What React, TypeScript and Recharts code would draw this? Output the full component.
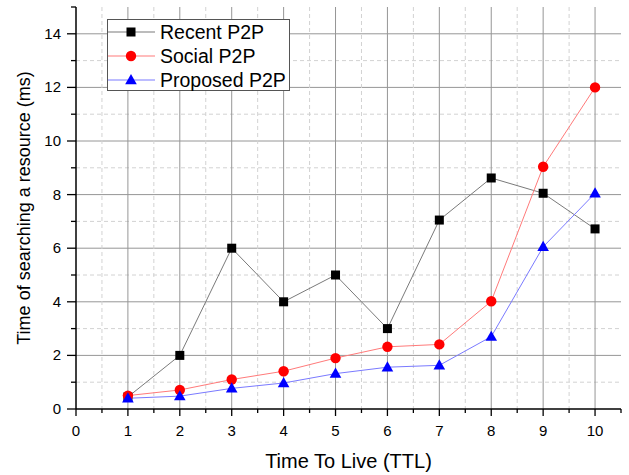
import React from 'react';
import { LineChart, Line, XAxis, YAxis, CartesianGrid, Legend, Label } from 'recharts';

const ttl = [1, 2, 3, 4, 5, 6, 7, 8, 9, 10];
const recentP2P = [0.45, 2, 6, 4, 5, 3, 7.05, 8.62, 8.05, 6.72];
const socialP2P = [0.5, 0.71, 1.1, 1.41, 1.9, 2.32, 2.41, 4.02, 9.04, 12];
const proposedP2P = [0.4, 0.48, 0.77, 0.97, 1.32, 1.56, 1.63, 2.7, 6.05, 8.05];

const xTicks = [0, 0.5, 1, 1.5, 2, 2.5, 3, 3.5, 4, 4.5, 5, 5.5, 6, 6.5, 7, 7.5, 8, 8.5, 9, 9.5, 10, 10.5];
const yTicks = [0, 1, 2, 3, 4, 5, 6, 7, 8, 9, 10, 11, 12, 13, 14, 15];

const seriesNames = ['Recent P2P', 'Social P2P', 'Proposed P2P'];
const xTitle = 'Time To Live (TTL)';
const yTitle = 'Time of searching a resource (ms)';

const data = ttl.map((t, i) => ({
  ttl: t,
  recent: recentP2P[i],
  social: socialP2P[i],
  proposed: proposedP2P[i],
}));

const FONT = '"Liberation Sans", Arial, Helvetica, sans-serif';

const series = [
  { key: 'recent', name: seriesNames[0], line: '#7a7a7a', fill: '#000000', shape: 'square' },
  { key: 'social', name: seriesNames[1], line: '#ff7a7a', fill: '#ff0000', shape: 'circle' },
  { key: 'proposed', name: seriesNames[2], line: '#7a7aff', fill: '#0000ff', shape: 'triangle' },
];

const Marker = ({ cx, cy, shape, fill }: any) => {
  if (cx == null || cy == null) return null;
  if (shape === 'square') {
    return <rect x={cx - 4.5} y={cy - 4.5} width={9} height={9} fill={fill} />;
  }
  if (shape === 'circle') {
    return <circle cx={cx} cy={cy} r={5.2} fill={fill} />;
  }
  return (
    <polygon
      points={`${cx},${cy - 6} ${cx - 5.8},${cy + 4.2} ${cx + 5.8},${cy + 4.2}`}
      fill={fill}
    />
  );
};

const XTick = (props: any) => {
  const { x, y, payload } = props;
  const v = payload.value;
  const major = Number.isInteger(v);
  return (
    <g>
      <line x1={x} y1={y} x2={x} y2={y + (major ? 7 : 4)} stroke="#000" strokeWidth={1.3} />
      {major && (
        <text x={x} y={y + 27} textAnchor="middle" fontSize={15} fontFamily={FONT} fill="#000">
          {v}
        </text>
      )}
    </g>
  );
};

const YTick = (props: any) => {
  const { x, y, payload } = props;
  const v = payload.value;
  const major = v % 2 === 0;
  return (
    <g>
      <line x1={x} y1={y} x2={x - (major ? 9 : 5)} y2={y} stroke="#000" strokeWidth={1.3} />
      {major && (
        <text x={x - 15} y={y + 5} textAnchor="end" fontSize={15} fontFamily={FONT} fill="#000">
          {v}
        </text>
      )}
    </g>
  );
};

const gridLine = (count: number) => (p: any) => {
  const { x1, y1, x2, y2, index } = p;
  if (index == null || index <= 0 || index >= count - 1) return <g key={p.key} />;
  const minor = index % 2 === 1;
  return (
    <line
      key={p.key}
      x1={x1}
      y1={y1}
      x2={x2}
      y2={y2}
      stroke={minor ? '#d2d2d2' : '#969696'}
      strokeWidth={1}
      strokeDasharray={minor ? '4 3' : undefined}
    />
  );
};

const LegendBox = () => (
  <div
    style={{
      background: '#fff',
      border: '1px solid #555',
      width: 183,
      height: 72,
      boxSizing: 'border-box',
      fontFamily: FONT,
      fontSize: 19.5,
      color: '#000',
    }}
  >
    {series.map((s) => (
      <div key={s.key} style={{ height: 24, display: 'flex', alignItems: 'center' }}>
        <svg width={47} height={20} style={{ display: 'block' }}>
          <line x1={0} y1={10} x2={47} y2={10} stroke={s.line} strokeWidth={1.2} />
          <Marker cx={23} cy={10} shape={s.shape} fill={s.fill} />
        </svg>
        <span style={{ marginLeft: 5, lineHeight: '24px', whiteSpace: 'nowrap' }}>{s.name}</span>
      </div>
    ))}
  </div>
);

export default function App() {
  return (
    <div style={{ position: 'absolute', left: 0, top: 0 }}>
      <LineChart
        width={629}
        height={475}
        data={data}
        margin={{ top: 7, right: 8, left: 0, bottom: 0 }}
        style={{ fontFamily: FONT, background: '#fff' }}
      >
        <CartesianGrid
          horizontal={gridLine(yTicks.length)}
          vertical={gridLine(xTicks.length)}
        />
        <XAxis
          dataKey="ttl"
          type="number"
          domain={[0, 10.5]}
          ticks={xTicks}
          interval={0}
          allowDataOverflow
          height={66}
          tickSize={0}
          tickMargin={0}
          tickLine={false}
          tick={<XTick />}
          axisLine={{ stroke: '#000', strokeWidth: 1.5 }}
        >
          <Label
            value={xTitle}
            position="insideBottom"
            offset={7}
            style={{ fontSize: 20, fontFamily: FONT, fill: '#000' }}
          />
        </XAxis>
        <YAxis
          type="number"
          domain={[0, 15]}
          ticks={yTicks}
          interval={0}
          allowDataOverflow
          width={76}
          tickSize={0}
          tickMargin={0}
          tickLine={false}
          tick={<YTick />}
          axisLine={{ stroke: '#000', strokeWidth: 1.5 }}
        >
          <Label
            value={yTitle}
            position="insideLeft"
            angle={-90}
            offset={24}
            style={{ fontSize: 18, fontFamily: FONT, fill: '#000', textAnchor: 'middle' }}
          />
        </YAxis>
        <Legend
          layout="horizontal"
          verticalAlign="middle"
          align="center"
          content={<LegendBox />}
          wrapperStyle={{ position: 'absolute', left: 107, top: 19, width: 183, height: 72 }}
        />
        {series.map((s) => (
          <Line
            key={s.key}
            dataKey={s.key}
            name={s.name}
            stroke={s.line}
            strokeWidth={1}
            isAnimationActive={false}
            dot={(p: any) => <Marker key={`${s.key}-${p.index}`} cx={p.cx} cy={p.cy} shape={s.shape} fill={s.fill} />}
            activeDot={false}
          />
        ))}
      </LineChart>
    </div>
  );
}
